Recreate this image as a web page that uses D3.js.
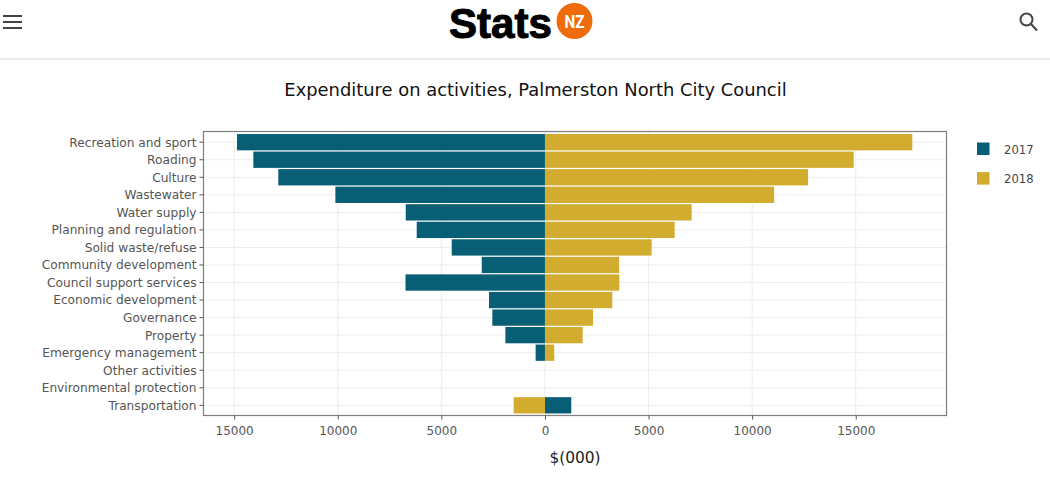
<!DOCTYPE html>
<html>
<head>
<meta charset="utf-8">
<script src="https://cdn.jsdelivr.net/npm/d3@7"></script>
<style>
  html, body { margin: 0; padding: 0; background: #fff; overflow: hidden; }
  text { font-family: "DejaVu Sans", sans-serif; }
</style>
</head>
<body>
<svg id="chart" width="1050" height="481"></svg>
<script>
var categories = ["Recreation and sport", "Roading", "Culture", "Wastewater", "Water supply",
  "Planning and regulation", "Solid waste/refuse", "Community development", "Council support services",
  "Economic development", "Governance", "Property", "Emergency management", "Other activities",
  "Environmental protection", "Transportation"];
// 2017 is drawn to the left, so its values are negative (Transportation is the odd one out)
var values2017 = [-14865, -14075, -12870, -10115, -6720, -6190, -4500, -3050, -6730, -2700, -2540, -1910, -450, 0, 0, 1270];
var values2018 = [17730, 14900, 12700, 11060, 7080, 6260, 5150, 3580, 3590, 3250, 2320, 1820, 450, 0, 0, -1510];
var xTicks = [-15000, -10000, -5000, 0, 5000, 10000, 15000];
var seriesNames = ["2017", "2018"];
var colors = ["#085e75", "#d2ac2f"];

var svg = d3.select("#chart");

var left = 203.5, right = 946.5, top_ = 131.5, bottom = 415.5;

var x = d3.scaleLinear().domain([-16480, 19380]).range([left, right]);
var y = d3.scaleBand().domain(categories).range([133.5, 414]).paddingInner(0.07).paddingOuter(0.03);

// page header
svg.append("line").attr("x1", 0).attr("x2", 1050).attr("y1", 59).attr("y2", 59)
  .attr("stroke", "#dcdcdc").attr("stroke-width", 1.2);

svg.append("g").selectAll("rect").data([15, 21, 27]).join("rect")
  .attr("x", 3).attr("y", function (d) { return d; })
  .attr("width", 19).attr("height", 2).attr("fill", "#444");

var logo = svg.append("g");
logo.append("text").text("Stats").attr("x", 449).attr("y", 38)
  .attr("textLength", 103).attr("lengthAdjust", "spacingAndGlyphs")
  .style("font-family", '"Liberation Sans", sans-serif').style("font-weight", 700).style("font-size", "42px")
  .attr("fill", "#000").attr("stroke", "#000").attr("stroke-width", 1);
logo.append("circle").attr("cx", 574.5).attr("cy", 21).attr("r", 18).attr("fill", "#ee6c0c");
logo.append("text").text("NZ").attr("x", 574.5).attr("y", 28).attr("text-anchor", "middle")
  .attr("textLength", 20).attr("lengthAdjust", "spacingAndGlyphs")
  .style("font-family", "Roboto, sans-serif").style("font-weight", 700).style("font-size", "19px")
  .attr("fill", "#fff");

var search = svg.append("g").attr("fill", "none").attr("stroke", "#444").attr("stroke-width", 2);
search.append("circle").attr("cx", 1026.5).attr("cy", 19.5).attr("r", 6);
search.append("line").attr("x1", 1031).attr("y1", 24).attr("x2", 1037).attr("y2", 30.5);

// title
svg.append("text").text("Expenditure on activities, Palmerston North City Council")
  .attr("x", 535.5).attr("y", 96).attr("text-anchor", "middle")
  .style("font-size", "17.9px").attr("fill", "#111");

// grid
var grid = svg.append("g").attr("stroke", "#ededed").attr("stroke-width", 1);
grid.selectAll(".gx").data(xTicks).join("line").attr("class", "gx")
  .attr("x1", function (d) { return x(d); }).attr("x2", function (d) { return x(d); })
  .attr("y1", top_).attr("y2", bottom);
grid.selectAll(".gy").data(categories).join("line").attr("class", "gy")
  .attr("x1", left).attr("x2", right)
  .attr("y1", function (d) { return y(d) + y.bandwidth() / 2; })
  .attr("y2", function (d) { return y(d) + y.bandwidth() / 2; });

// bars
[values2017, values2018].forEach(function (vals, s) {
  svg.append("g").selectAll("rect").data(vals).join("rect")
    .attr("x", function (d) { return Math.min(x(d), x(0)); })
    .attr("y", function (d, i) { return y(categories[i]); })
    .attr("width", function (d) { return Math.abs(x(d) - x(0)); })
    .attr("height", y.bandwidth())
    .attr("fill", colors[s]);
});

// plot border
svg.append("rect").attr("x", left).attr("y", top_).attr("width", right - left).attr("height", bottom - top_)
  .attr("fill", "none").attr("stroke", "#7f7f7f").attr("stroke-width", 1.2);

// axes
var xAxis = d3.axisBottom(x).tickValues(xTicks).tickSize(4).tickPadding(7)
  .tickFormat(function (d) { return Math.abs(d); });
var gx = svg.append("g").attr("transform", "translate(0," + bottom + ")").call(xAxis);
var yAxis = d3.axisLeft(y).tickSize(4).tickPadding(3);
var gy = svg.append("g").attr("transform", "translate(" + left + ",0)").call(yAxis);
[gx, gy].forEach(function (g) {
  g.select(".domain").remove();
  g.selectAll("line").attr("stroke", "#555");
  g.selectAll("text").attr("fill", "#555").style("font-size", "12px")
    .style("font-family", '"DejaVu Sans", sans-serif');
});
gy.selectAll("text").style("font-size", "12.2px").attr("dy", "0.36em");

svg.append("text").text("$(000)").attr("x", 575).attr("y", 463).attr("text-anchor", "middle")
  .style("font-size", "15.4px").attr("fill", "#222");

// legend
var legend = svg.append("g").selectAll("g").data(seriesNames).join("g")
  .attr("transform", function (d, i) { return "translate(977," + (142.5 + i * 29.6) + ")"; });
legend.append("rect").attr("width", 12.5).attr("height", 12.5).attr("fill", function (d, i) { return colors[i]; });
legend.append("text").text(function (d) { return d; }).attr("x", 27).attr("y", 11)
  .style("font-size", "11.6px").attr("fill", "#444");
</script>
</body>
</html>
